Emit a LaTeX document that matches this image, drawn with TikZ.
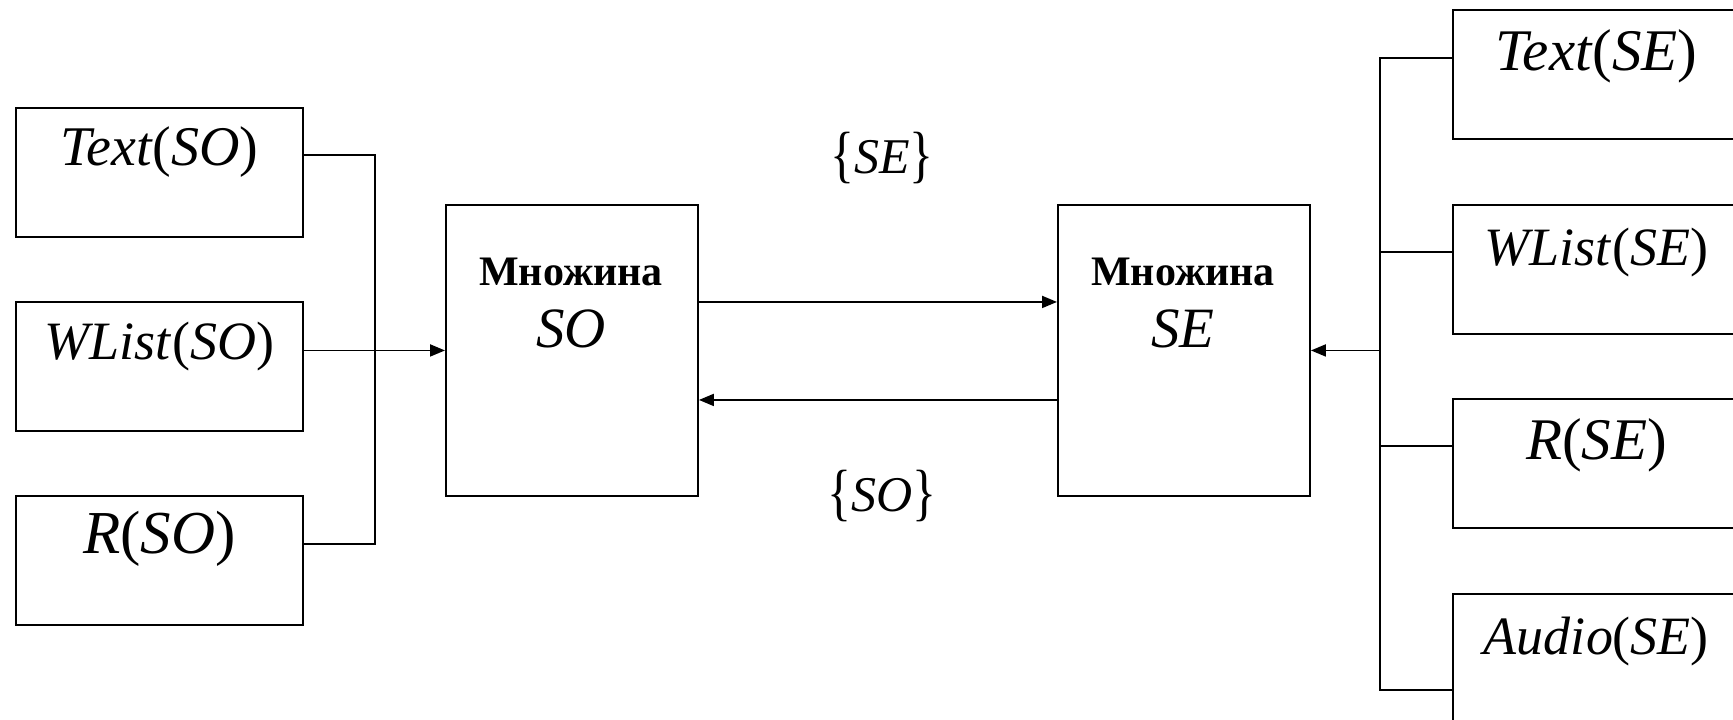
\documentclass[tikz,border=0pt]{standalone}
\usepackage{fontspec}
\setmainfont{Liberation Serif}
\usepackage{graphicx}
\usetikzlibrary{arrows.meta}

% tall set braces
\newcommand{\lbr}{\raisebox{-0.05em}{\scalebox{1}[1.25]{\{}}}
\newcommand{\rbr}{\raisebox{-0.05em}{\scalebox{1}[1.25]{\}}}}
\newcommand{\fs}[1]{\fontsize{#1}{#1}\selectfont}

\tikzset{
  ln/.style={line width=1.9pt},
  arr/.style={ln, -{Triangle[length=15pt,width=12pt]}},
  srcbox/.style={draw, ln, inner sep=0pt, anchor=north west,
    minimum width=287pt, text height=58pt, text depth=71pt,
    font=\fs{54}},
  tgtbox/.style={srcbox, text height=61pt, text depth=68pt},
  setbox/.style={draw, ln, inner sep=0pt, anchor=north west,
    minimum width=252pt, minimum height=291pt},
  head/.style={anchor=base, inner sep=0pt, font=\fs{42}\bfseries},
  sym/.style={anchor=base, inner sep=0pt, font=\fs{57}\itshape},
  flow/.style={anchor=base, inner sep=0pt, font=\fs{50}}
}

\begin{document}
\begin{tikzpicture}[x=1pt, y=-1pt]
  \clip (0,0) rectangle (1733,720);
  \useasboundingbox (0,0) rectangle (1733,720);

  % sources on the left
  \node[srcbox, font=\fs{56}] (tso) at (15,107) {\textit{Text}(\textit{SO})};
  \node[srcbox] (wso) at (15,301) {\textit{WList}(\textit{SO})};
  \node[srcbox, font=\fs{61}] (rso) at (15,495) {\textit{R}(\textit{SO})};

  % the two sets
  \node[setbox] (so) at (445,204) {};
  \node[head] (sohead) at (571,285) {Множина};
  \node[sym] (sosym) at (571,347) {SO};

  \node[setbox] (se) at (1057,204) {};
  \node[head] (sehead) at (1183,285) {Множина};
  \node[sym] (sesym) at (1183,347) {SE};

  % sources on the right
  \node[tgtbox, font=\fs{59}] (tse) at (1452,9) {\textit{Text}(\textit{SE})};
  \node[tgtbox] (wse) at (1452,204) {\textit{WList}(\textit{SE})};
  \node[tgtbox, font=\fs{59}] (rse) at (1452,398) {\textit{R}(\textit{SE})};
  \node[tgtbox] (ase) at (1452,593) {\textit{Audio}(\textit{SE})};

  % flow labels
  \node[flow] (fse) at (882,173) {\lbr\textit{SE}\rbr};
  \node[flow] (fso) at (882,511) {\lbr\textit{SO}\rbr};

  % left bus
  \coordinate (busl) at (375,0);
  \coordinate (l1) at ([yshift=-48pt]tso.north east);
  \coordinate (l3) at ([yshift=-49pt]rso.north east);
  \draw[ln] (l1) -- (l1 -| busl) -- (l3 -| busl) -- (l3);
  \draw[arr] (so.west -| wso.east) -- (so.west);

  % exchange between the sets
  \draw[arr] ([yshift=48.5pt]so.east) -- ([yshift=48.5pt]se.west);
  \draw[arr] ([yshift=-49.5pt]se.west) -- ([yshift=-49.5pt]so.east);

  % right bus
  \coordinate (busr) at (1380,0);
  \coordinate (r1) at ([yshift=-49pt]tse.north west);
  \coordinate (r2) at ([yshift=-48pt]wse.north west);
  \coordinate (r3) at ([yshift=-48pt]rse.north west);
  \coordinate (r4) at ([yshift=-97pt]ase.north west);
  \draw[ln] (r1) -- (r1 -| busr) -- (r4 -| busr) -- (r4);
  \draw[ln] (r2 -| busr) -- (r2);
  \draw[ln] (r3 -| busr) -- (r3);
  \draw[arr] (se.east -| busr) -- (se.east);
\end{tikzpicture}
\end{document}
